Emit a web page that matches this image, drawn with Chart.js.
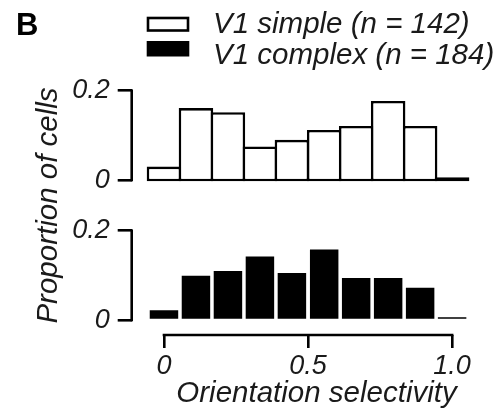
<!DOCTYPE html>
<html>
<head>
<meta charset="utf-8">
<script src="https://cdn.jsdelivr.net/npm/chart.js@4.4.1/dist/chart.umd.min.js"></script>
<style>
  html, body { margin: 0; padding: 0; background: #fff; }
  #wrap { position: relative; width: 501px; height: 419px; }
  #wrap canvas { position: absolute; left: 0; top: 0; }
</style>
</head>
<body>
<div id="wrap">
  <canvas id="topChart" width="501" height="419"></canvas>
  <canvas id="bottomChart" width="501" height="419"></canvas>
</div>
<script>
// histogram bins (orientation selectivity) and proportions
var binCenters = [0, 0.111, 0.222, 0.333, 0.444, 0.556, 0.667, 0.778, 0.889, 1.0];
var simpleValues = [0.030, 0.161, 0.152, 0.075, 0.090, 0.112, 0.121, 0.177, 0.121, 0.006];
var complexValues = [0.022, 0.099, 0.110, 0.142, 0.105, 0.158, 0.094, 0.094, 0.072, 0.006];
var seriesNames = ['V1 simple (n = 142)', 'V1 complex (n = 184)'];
var xTickValues = [0, 0.5, 1.0];
var xTickLabels = ['0', '0.5', '1.0'];
var yTickValues = [0, 0.2];
var yTickLabels = ['0', '0.2'];

var FONT = '"Liberation Sans", Arial, Helvetica, sans-serif';
var INK = '#1a1a1a';

function points(values) {
  return binCenters.map(function(c, i) { return { x: c, y: values[i] }; });
}

function xScale(show) {
  return {
    type: 'linear',
    min: -0.112,
    max: 1.069,
    offset: false,
    display: show,
    afterBuildTicks: function(s) { s.ticks = xTickValues.map(function(v) { return { value: v }; }); },
    afterFit: function(s) { if (show) s.height = 84; },
    grid: { offset: false, drawOnChartArea: false, tickLength: 13, lineWidth: 2.6, color: '#000' },
    border: { display: false },
    ticks: {
      padding: 2, color: INK, maxRotation: 0, autoSkip: false,
      font: { family: FONT, size: 27, style: 'italic' },
      callback: function(v, i) { return xTickLabels[i]; }
    }
  };
}

function yScale(min) {
  return {
    type: 'linear',
    min: min,
    max: 0.2,
    afterBuildTicks: function(s) { s.ticks = yTickValues.map(function(v) { return { value: v }; }); },
    afterFit: function(s) { s.width = 131.7; },
    grid: { drawOnChartArea: false, tickLength: 14, lineWidth: 2.6, color: '#000' },
    border: { display: false },
    ticks: {
      padding: 8, color: INK,
      font: { family: FONT, size: 27, style: 'italic' },
      callback: function(v, i) { return yTickLabels[i]; }
    }
  };
}

// range-frame spines: y from 0 to 0.2, x from 0 to 1
var rangeFrame = {
  id: 'rangeFrame',
  afterDraw: function(chart, args, opts) {
    var ctx = chart.ctx, ys = chart.scales.y, xs = chart.scales.x;
    var left = chart.chartArea.left;
    ctx.save();
    ctx.strokeStyle = '#000';
    ctx.lineWidth = 2.6;
    ctx.lineCap = 'square';
    ctx.beginPath();
    ctx.moveTo(left, ys.getPixelForValue(yTickValues[0]));
    ctx.lineTo(left, ys.getPixelForValue(yTickValues[yTickValues.length - 1]));
    ctx.stroke();
    if (opts.xAxis) {
      var b = chart.chartArea.bottom;
      ctx.beginPath();
      ctx.moveTo(xs.getPixelForValue(xTickValues[0]), b);
      ctx.lineTo(xs.getPixelForValue(xTickValues[xTickValues.length - 1]), b);
      ctx.stroke();
    }
    ctx.restore();
  }
};

// panel letter, legend and axis titles
var figureText = {
  id: 'figureText',
  afterDraw: function(chart) {
    var ctx = chart.ctx;
    ctx.save();
    ctx.fillStyle = '#000';
    ctx.textBaseline = 'alphabetic';
    ctx.font = 'bold 31px ' + FONT;
    ctx.fillText('B', 16, 35);

    ctx.strokeStyle = '#000';
    ctx.lineWidth = 2.6;
    ctx.strokeRect(148, 18, 40, 12.5);
    ctx.fillRect(146.7, 41, 42.6, 15.5);

    ctx.fillStyle = INK;
    ctx.font = 'italic 29.5px ' + FONT;
    ctx.fillText(seriesNames[0], 213, 33);
    ctx.fillText(seriesNames[1], 213, 64);

    ctx.textAlign = 'center';
    ctx.fillText('Orientation selectivity', 316.5, 402);
    ctx.translate(57, 205.5);
    ctx.rotate(-Math.PI / 2);
    ctx.fillText('Proportion of cells', 0, 0);
    ctx.restore();
  }
};

var topChart = new Chart(document.getElementById('topChart'), {
  type: 'bar',
  data: {
    datasets: [{
      label: seriesNames[0],
      data: points(simpleValues),
      backgroundColor: '#fff',
      borderColor: '#000',
      borderWidth: 2.6,
      borderSkipped: false,
      base: -0.003,
      clip: false,
      barPercentage: 1.08,
      categoryPercentage: 1
    }]
  },
  options: {
    responsive: false,
    animation: false,
    layout: { padding: { top: 90.7, bottom: 239, left: 0, right: 29 } },
    plugins: { legend: { display: false }, tooltip: { enabled: false }, rangeFrame: { xAxis: false } },
    scales: { x: xScale(false), y: yScale(0) }
  },
  plugins: [rangeFrame, figureText]
});

var bottomChart = new Chart(document.getElementById('bottomChart'), {
  type: 'bar',
  data: {
    datasets: [{
      label: seriesNames[1],
      data: points(complexValues),
      backgroundColor: '#000',
      borderWidth: 0,
      barPercentage: 0.89,
      categoryPercentage: 1
    }]
  },
  options: {
    responsive: false,
    animation: false,
    layout: { padding: { top: 230.7, bottom: 0, left: 0, right: 29 } },
    plugins: { legend: { display: false }, tooltip: { enabled: false }, rangeFrame: { xAxis: true } },
    scales: { x: xScale(true), y: yScale(-0.0336) }
  },
  plugins: [rangeFrame]
});
</script>
</body>
</html>
